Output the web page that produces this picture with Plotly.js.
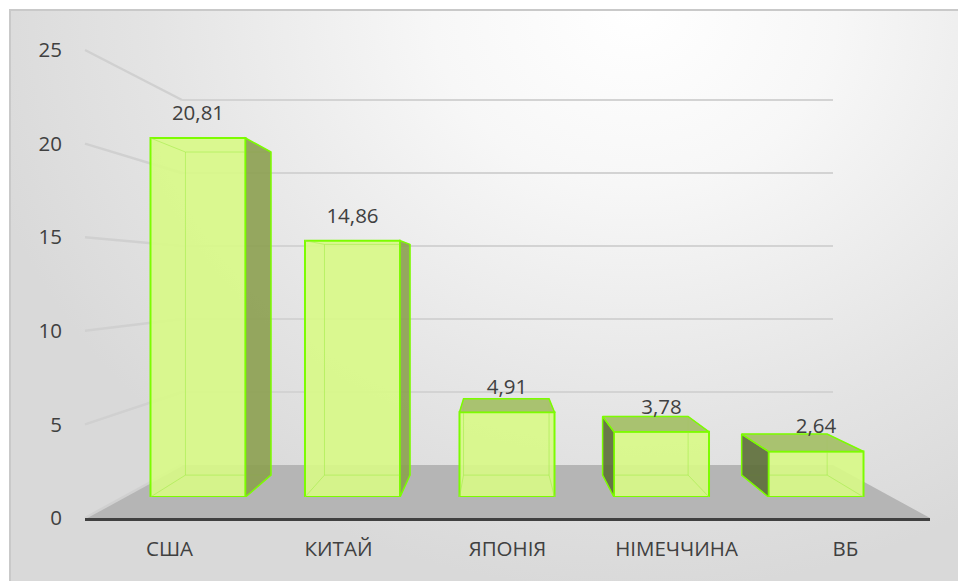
<!DOCTYPE html>
<html><head><meta charset="utf-8">
<script src="https://cdn.plot.ly/plotly-3.0.1.min.js"></script>
<style>
html,body{margin:0;padding:0;background:#fff;overflow:hidden;}
#bg{position:absolute;left:9px;top:9px;width:960px;height:580px;border-left:2px solid #c9c9c9;border-top:2px solid #c9c9c9;
background:radial-gradient(ellipse 70% 100% at 65% 0%, #ffffff 0%, #f7f7f7 30%, #e4e4e4 72%, #d9d9d9 100%);}
#chart{position:absolute;left:0;top:0;width:958px;height:581px;}
</style></head><body><div id="bg"></div><div id="chart"></div>
<script>
const categories = ['США', 'КИТАЙ', 'ЯПОНІЯ', 'НІМЕЧЧИНА', 'ВБ'];
const values = [20.81, 14.86, 4.91, 3.78, 2.64];
const yTicks = [0, 5, 10, 15, 20, 25];

const W = 958, H = 581;
const px = x => x / W;
const py = y => 1 - y / H;
const FONT = 'Open Sans, DejaVu Sans, sans-serif';
const TXT = '#404040';
const FS = 20.5;

// perspective geometry (layout, in bar-subplot data units)
const barW = 0.615, half = barW / 2;
const vpx = (500 - 198) / 154.5, vpy = (497 - 278) / 17.25, sc = 0.9;
const fx = x => vpx + sc * (x - vpx);
const fy = y => vpy + sc * (y - vpy);

const traces = [];
// grid subplot (x,y)
traces.push({type:'scatter', x:[0], y:[0], mode:'markers', marker:{opacity:0}, hoverinfo:'skip', xaxis:'x', yaxis:'y'});
// category axis subplot (x2,y2)
traces.push({type:'scatter', x:categories, y:categories.map(()=>0), mode:'markers', marker:{opacity:0}, hoverinfo:'skip', xaxis:'x2', yaxis:'y2'});

const idx = categories.map((_, i) => i);
// hidden back edges (seen through the transparent bars)
idx.forEach(i => {
  const v = values[i];
  const L = i - half, R = i + half;
  const bL = fx(L), bR = fx(R), bB = fy(0), bT = fy(v);
  traces.push({type:'scatter', mode:'lines', xaxis:'x3', yaxis:'y3', hoverinfo:'skip',
    x:[bL,bR,bR,bL,bL,null,L,bL,null,R,bR,null,L,bL,null,R,bR],
    y:[bB,bB,bT,bT,bB,null,0,bB,null,0,bB,null,v,bT,null,v,bT],
    line:{color:'rgba(160,235,70,0.55)', width:1}});
});
// side and top faces
idx.forEach(i => {
  const v = values[i];
  const L = i - half, R = i + half;
  const bL = fx(L), bR = fx(R), bB = fy(0), bT = fy(v);
  if (R < vpx) {
    traces.push({type:'scatter', mode:'lines', fill:'toself', xaxis:'x3', yaxis:'y3', hoverinfo:'skip',
      x:[R,R,bR,bR,R], y:[0,v,bT,bB,0], fillcolor:'rgba(140,160,80,0.9)', line:{color:'#7cfc00', width:1.5}});
  } else if (L > vpx) {
    traces.push({type:'scatter', mode:'lines', fill:'toself', xaxis:'x3', yaxis:'y3', hoverinfo:'skip',
      x:[L,L,bL,bL,L], y:[0,v,bT,bB,0], fillcolor:'rgba(95,112,60,0.92)', line:{color:'#7cfc00', width:1.5}});
  }
  if (v < vpy) {
    traces.push({type:'scatter', mode:'lines', fill:'toself', xaxis:'x3', yaxis:'y3', hoverinfo:'skip',
      x:[L,R,bR,bL,L], y:[v,v,bT,bT,v], fillcolor:'rgba(165,192,105,0.95)', line:{color:'#7cfc00', width:1.5}});
  }
});
// front faces
traces.push({type:'bar', x:idx, y:values, width:barW, xaxis:'x3', yaxis:'y3', hoverinfo:'skip',
  marker:{color:'rgba(216,250,134,0.9)', line:{color:'#7cfc00', width:2}}});
// value labels
traces.push({type:'scatter', mode:'text', x:idx, y:values.map(v => v + 1.35), xaxis:'x3', yaxis:'y3',
  text:values.map(v => v.toFixed(2).replace('.', ',')), textposition:'middle center',
  textfont:{family:FONT, size:FS, color:TXT}, cliponaxis:false, hoverinfo:'skip'});

// domains
const gridPad = 0.5, gridPx = 14.6;
const yGrid = [py(465 + gridPad * gridPx), py(100 - gridPad * gridPx)];
const gridAt = v => py(465 - v * gridPx);
const yFront = [py(518), py(50)];
const shapes = [];
shapes.push({type:'path', xref:'paper', yref:'paper', layer:'below',
  path:`M ${px(85)},${py(518)} L ${px(930)},${py(518)} L ${px(833)},${py(465)} L ${px(182)},${py(465)} Z`,
  fillcolor:'#b5b5b5', line:{width:0}});
yTicks.forEach(v => {
  shapes.push({type:'line', xref:'paper', yref:'paper', layer:'below',
    x0:px(85), y0:yFront[0] + (yFront[1]-yFront[0]) * v / 25,
    x1:px(182), y1:gridAt(v),
    line:{color:'#d0d0d0', width:2.5}});
});

const layout = {
  width:W, height:H, margin:{l:0, r:0, t:0, b:0},
  paper_bgcolor:'rgba(0,0,0,0)', plot_bgcolor:'rgba(0,0,0,0)',
  showlegend:false, font:{family:FONT, size:FS, color:TXT},
  shapes:shapes,
  xaxis:{domain:[px(182), px(833)], range:[0,1], anchor:'y', showgrid:false, zeroline:false, showticklabels:false, ticks:'', showline:false},
  yaxis:{domain:yGrid, range:[-gridPad, 25 + gridPad], tickvals:yTicks.filter(v => v > 0), anchor:'x', showgrid:true, gridcolor:'#d3d3d3', gridwidth:2.5, zeroline:false, showticklabels:false, ticks:'', showline:false},
  xaxis2:{domain:[px(85), px(930)], type:'category', range:[-0.5, 4.5], anchor:'y2', showline:true, linecolor:'#404040', linewidth:3,
    ticks:'outside', ticklen:10, tickcolor:'rgba(0,0,0,0)', tickfont:{family:FONT, size:FS, color:TXT}, showgrid:false, zeroline:false},
  yaxis2:{domain:yFront, range:[0,25], tickvals:yTicks, anchor:'x2', showgrid:false, zeroline:false, showline:false,
    ticks:'outside', ticklen:18, tickcolor:'rgba(0,0,0,0)', tickfont:{family:FONT, size:FS, color:TXT}},
  xaxis3:{domain:[px(120.75), px(893.25)], range:[-0.5,4.5], anchor:'y3', visible:false},
  yaxis3:{domain:[py(497), py(65.75)], range:[0,25], anchor:'x3', visible:false}
};

Plotly.newPlot('chart', traces, layout, {displayModeBar:false, staticPlot:true});
</script>
</body></html>
